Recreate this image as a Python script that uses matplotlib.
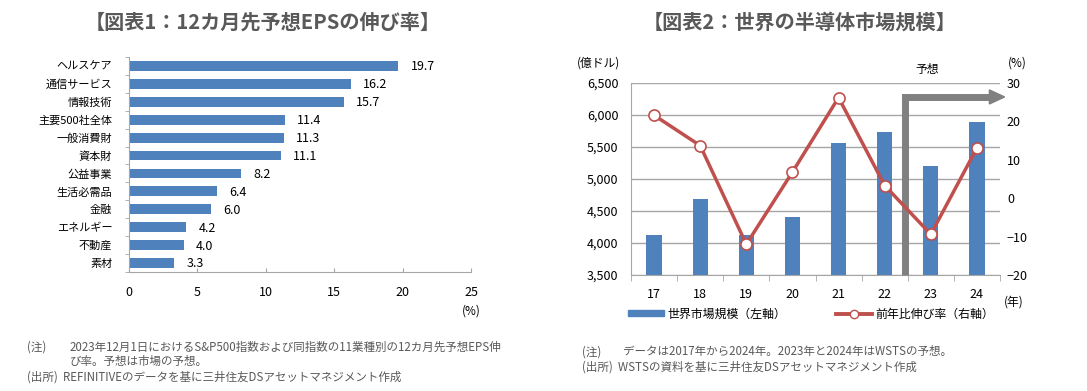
#!/usr/bin/env python3
"""Recreate: 12カ月先予想EPSの伸び率 / 世界の半導体市場規模"""
import matplotlib

matplotlib.use("Agg")
import matplotlib.pyplot as plt  # noqa: E402
import numpy as np  # noqa: E402
from matplotlib.lines import Line2D  # noqa: E402
from matplotlib.patches import Patch, Polygon  # noqa: E402
from matplotlib.ticker import FuncFormatter  # noqa: E402

plt.rcParams["font.family"] = ["Noto Sans CJK JP", "DejaVu Sans"]

# ---- data: chart 1 ----
sectors = ["ヘルスケア", "通信サービス", "情報技術", "主要500社全体", "一般消費財",
           "資本財", "公益事業", "生活必需品", "金融", "エネルギー", "不動産", "素材"]
eps_growth = [19.7, 16.2, 15.7, 11.4, 11.3, 11.1, 8.2, 6.4, 6.0, 4.2, 4.0, 3.3]

# ---- data: chart 2 ----
years = ["17", "18", "19", "20", "21", "22", "23", "24"]
market = [4122, 4688, 4123, 4404, 5559, 5741, 5201, 5884]     # 億ドル
yoy = [21.6, 13.7, -12.0, 6.8, 26.2, 3.3, -9.4, 13.1]           # %

BLUE = "#4F81BD"
RED = "#C0504D"
GRID = "#A6A6A6"
GREY_TXT = "#595959"
ARROW = "#808080"
NUM_FS = 9
NOTE_FS = 8.3

fig = plt.figure(figsize=(10.87, 3.91), dpi=100)
W, H = 1087, 391


def box(x0, y0, x1, y1):
    """pixel box (top-left origin) -> fig axes rect"""
    return [x0 / W, 1 - y1 / H, (x1 - x0) / W, (y1 - y0) / H]


# =================== 図表1 ===================
ax1 = fig.add_axes(box(129, 57, 471, 272))
pos = np.arange(len(sectors))
ax1.barh(pos, eps_growth, height=0.55, color=BLUE, zorder=2)
ax1.set_ylim(len(sectors) - 0.5, -0.5)
ax1.set_xlim(0, 25)
ax1.set_xticks([0, 5, 10, 15, 20, 25])
ax1.set_yticks(pos)
ax1.set_yticklabels(sectors, fontsize=8)
ax1.set_yticks(np.arange(len(sectors) + 1) - 0.5, minor=True)
ax1.tick_params(axis="y", which="major", length=0, pad=12)
ax1.tick_params(axis="y", which="minor", length=3, color=GRID, direction="out")
ax1.tick_params(axis="x", length=3, color=GRID, direction="in", labelsize=NUM_FS, pad=10)
for s in ["top", "right"]:
    ax1.spines[s].set_visible(False)
for s in ["left", "bottom"]:
    ax1.spines[s].set_color(GRID)
for y, v in zip(pos, eps_growth):
    ax1.text(v + 0.9, y + 0.05, f"{v:.1f}", va="center", ha="left", fontsize=NUM_FS)
fig.text(471 / W, 1 - 311 / H, "(%)", ha="center", va="center", fontsize=8.5)

fig.text(263 / W, 1 - 22 / H, "【図表1：12カ月先予想EPSの伸び率】", ha="center",
         va="center", fontsize=14.5, fontweight="bold", color=GREY_TXT)
fig.text(27 / W, 1 - 347 / H, "(注)", ha="left", va="center", fontsize=NOTE_FS, color=GREY_TXT)
fig.text(70 / W, 1 - 347 / H,
         "2023年12月1日におけるS&P500指数および同指数の11業種別の12カ月先予想EPS伸",
         ha="left", va="center", fontsize=NOTE_FS, color=GREY_TXT)
fig.text(70 / W, 1 - 361 / H, "び率。予想は市場の予想。",
         ha="left", va="center", fontsize=NOTE_FS, color=GREY_TXT)
fig.text(27 / W, 1 - 377 / H, "(出所)  REFINITIVEのデータを基に三井住友DSアセットマネジメント作成",
         ha="left", va="center", fontsize=NOTE_FS, color=GREY_TXT)

# =================== 図表2 ===================
ax2 = fig.add_axes(box(631, 83, 1000, 275))
x = np.arange(len(years))
ax2.bar(x, market, width=0.33, color=BLUE, zorder=2)
ax2.set_xlim(-0.5, len(years) - 0.5)
ax2.set_ylim(3500, 6500)
ax2.set_yticks(np.arange(3500, 6501, 500))
ax2.yaxis.set_major_formatter(FuncFormatter(lambda v, _: f"{int(v):,}"))
ax2.grid(axis="y", color=GRID, lw=1, zorder=0)
ax2.set_axisbelow(True)
ax2.set_xticks(x)
ax2.set_xticklabels(years)
ax2.set_xticks(np.arange(len(years) + 1) - 0.5, minor=True)
ax2.tick_params(axis="x", which="major", length=0, labelsize=NUM_FS, pad=9)
ax2.tick_params(axis="x", which="minor", length=4, color=GRID, direction="out")
ax2.tick_params(axis="y", length=0, labelsize=NUM_FS, pad=9)
for s in ["top", "right"]:
    ax2.spines[s].set_visible(False)
for s in ["left", "bottom"]:
    ax2.spines[s].set_color(GRID)

ax3 = ax2.twinx()
ax3.plot(x, yoy, color=RED, lw=2.5, marker="o", ms=8, mfc="white", mec=RED,
         mew=1.2, zorder=4, clip_on=False)
ax3.set_ylim(-20, 30)
ax3.set_yticks([-20, -10, 0, 10, 20, 30])
ax3.tick_params(axis="y", length=0, labelsize=NUM_FS, pad=5)
for s in ["top", "left", "bottom", "right"]:
    ax3.spines[s].set_visible(False)

# forecast arrow
ARR_X, ARR_Y, ARR_END = 5.45, 6282, 7.27
ax2.plot([ARR_X, ARR_X, ARR_END], [3500, ARR_Y, ARR_Y], color=ARROW, lw=5,
         solid_joinstyle="miter", solid_capstyle="butt", zorder=5, clip_on=False)
ax2.add_patch(Polygon([(ARR_END, ARR_Y + 110), (7.6, ARR_Y), (ARR_END, ARR_Y - 110)],
                      closed=True, color=ARROW, zorder=5, clip_on=False))
fig.text(927 / W, 1 - 70 / H, "予想", ha="center", va="center", fontsize=8.5)
fig.text(598 / W, 1 - 63 / H, "(億ドル)", ha="center", va="center", fontsize=8.5)
fig.text(1017 / W, 1 - 63 / H, "(%)", ha="center", va="center", fontsize=8.5)
fig.text(1014 / W, 1 - 302 / H, "(年)", ha="center", va="center", fontsize=8.5)

handles = [Patch(color=BLUE), Line2D([], [], color=RED, lw=2.8, marker="o", ms=6,
                                     mfc="white", mec=RED)]
fig.legend(handles, ["世界市場規模（左軸）", "前年比伸び率（右軸）"],
           loc="center left", bbox_to_anchor=(622 / W, 1 - 314 / H), ncol=2,
           frameon=False, fontsize=8.6, handlelength=3.0, handleheight=0.45,
           columnspacing=4.2, handletextpad=0.3, borderpad=0)

fig.text(800 / W, 1 - 22 / H, "【図表2：世界の半導体市場規模】", ha="center",
         va="center", fontsize=14.5, fontweight="bold", color=GREY_TXT)
fig.text(582 / W, 1 - 352 / H, "(注)", ha="left", va="center", fontsize=NOTE_FS, color=GREY_TXT)
fig.text(623 / W, 1 - 352 / H, "データは2017年から2024年。2023年と2024年はWSTSの予想。",
         ha="left", va="center", fontsize=NOTE_FS, color=GREY_TXT)
fig.text(582 / W, 1 - 367 / H, "(出所)  WSTSの資料を基に三井住友DSアセットマネジメント作成",
         ha="left", va="center", fontsize=NOTE_FS, color=GREY_TXT)

fig.savefig("out.png", dpi=100)
